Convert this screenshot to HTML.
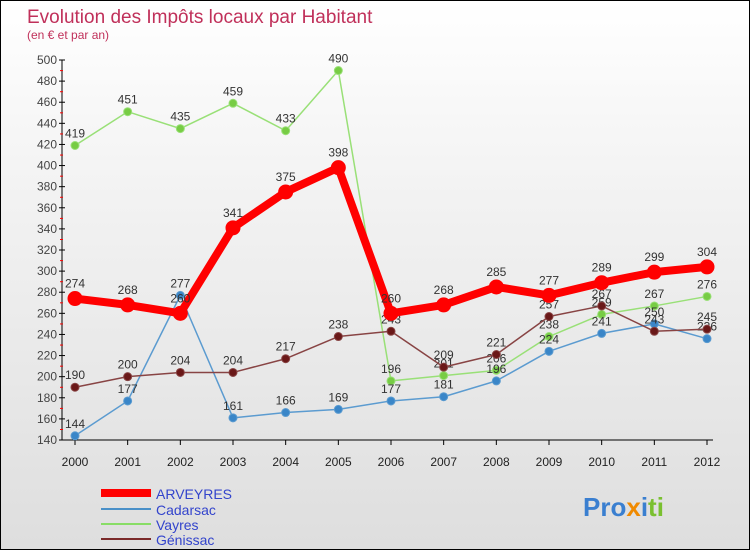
<!DOCTYPE html>
<html><head><meta charset="utf-8"><style>
body{margin:0;width:750px;height:550px;overflow:hidden;font-family:"Liberation Sans",sans-serif}
#wrap{position:relative;width:748px;height:548px;border:1px solid #000;background:linear-gradient(#fff 0%,#f4f4f4 30%,#dedede 100%)}
</style></head><body>
<div id="wrap">
<svg id="svg" width="748" height="548" xmlns="http://www.w3.org/2000/svg">
<text x="26" y="22" font-size="19" fill="#c0305a">Evolution des Impôts locaux par Habitant</text>
<text x="26" y="38" font-size="12" fill="#c0305a">(en € et par an)</text>
<g id="axes"></g><g id="series"></g>
<g>
<line x1="100" y1="492" x2="150" y2="492" stroke="#f00" stroke-width="8"/>
<text x="155" y="498" font-size="14" fill="#3344cc">ARVEYRES</text>
<line x1="100" y1="508" x2="150" y2="508" stroke="#4a90c8" stroke-width="2"/>
<text x="155" y="514" font-size="14" fill="#3344cc">Cadarsac</text>
<line x1="100" y1="523" x2="150" y2="523" stroke="#88dd66" stroke-width="2"/>
<text x="155" y="529" font-size="14" fill="#3344cc">Vayres</text>
<line x1="100" y1="538" x2="150" y2="538" stroke="#7a2a2a" stroke-width="2"/>
<text x="155" y="544" font-size="14" fill="#3344cc">Génissac</text>
</g>
<text x="582" y="515" font-size="26" font-weight="bold"><tspan fill="#3a7fd0">Pro</tspan><tspan fill="#f08a00">x</tspan><tspan fill="#3a7fd0">i</tspan><tspan fill="#7ac030">ti</tspan></text>
</svg></div>
<script>
const years=[2000,2001,2002,2003,2004,2005,2006,2007,2008,2009,2010,2011,2012];
const yTicks=[140,160,180,200,220,240,260,280,300,320,340,360,380,400,420,440,460,480,500];
const arveyres=[274,268,260,341,375,398,260,268,285,277,289,299,304];
const cadarsac=[144,177,277,161,166,169,177,181,196,224,241,250,236];
const vayres=[419,451,435,459,433,490,196,201,206,238,259,267,276];
const genissac=[190,200,204,204,217,238,243,209,221,257,267,243,245];
const NS="http://www.w3.org/2000/svg";
const X=i=>74+i*(632/12);
const Y=v=>439-(v-140)*(380/360);
const ax=document.getElementById('axes'),sg=document.getElementById('series');
function mk(t,a,p){const e=document.createElementNS(NS,t);for(const k in a)e.setAttribute(k,a[k]);p.appendChild(e);return e;}
const yl=mk('line',{x1:61,y1:59,x2:61,y2:439,stroke:'#000'},ax);


const xl=mk('line',{x1:61,y1:439,x2:712,y2:439,stroke:'#000'},ax);


yTicks.forEach((v,i)=>{const y=Y(v);
mk('line',{x1:58,y1:y,x2:64,y2:y,stroke:'#000'},ax);
if(i<yTicks.length-1)mk('line',{x1:59,y1:y-10.5,x2:62,y2:y-10.5,stroke:'#f00'},ax);
const t=mk('text',{x:56,y:y+4,'font-size':12,'text-anchor':'end',fill:'#444'},ax);t.textContent=v;

});
years.forEach((yr,i)=>{const x=X(i);
mk('line',{x1:x,y1:439,x2:x,y2:444,stroke:'#000'},ax);
const t=mk('text',{x:x,y:465,'font-size':12,'text-anchor':'middle',fill:'#222'},ax);t.textContent=yr;

});
function series(data,name,color,w,r,dot){
const g=mk('g',{},sg);


mk('polyline',{points:data.map((v,i)=>X(i)+','+Y(v)).join(' '),fill:'none',stroke:color,'stroke-width':w,'stroke-linejoin':'round'},g);
data.forEach((v,i)=>{const c=mk('circle',{cx:X(i),cy:Y(v),r:r,fill:dot,stroke:color,'stroke-width':1},g);


const t=mk('text',{x:X(i),y:Y(v)-8-(r>5?3:0),'font-size':12,'text-anchor':'middle',fill:'#333'},g);t.textContent=v;

});}
series(vayres,'vayres','#99e077',1.5,4,'#77cc44');
series(cadarsac,'cadarsac','#5b9bd0',1.5,4,'#3a86c8');
series(genissac,'genissac','#884444',1.5,4,'#6a1818');
series(arveyres,'arveyres','#f00',8,7,'#f00');
</script>
</body></html>
